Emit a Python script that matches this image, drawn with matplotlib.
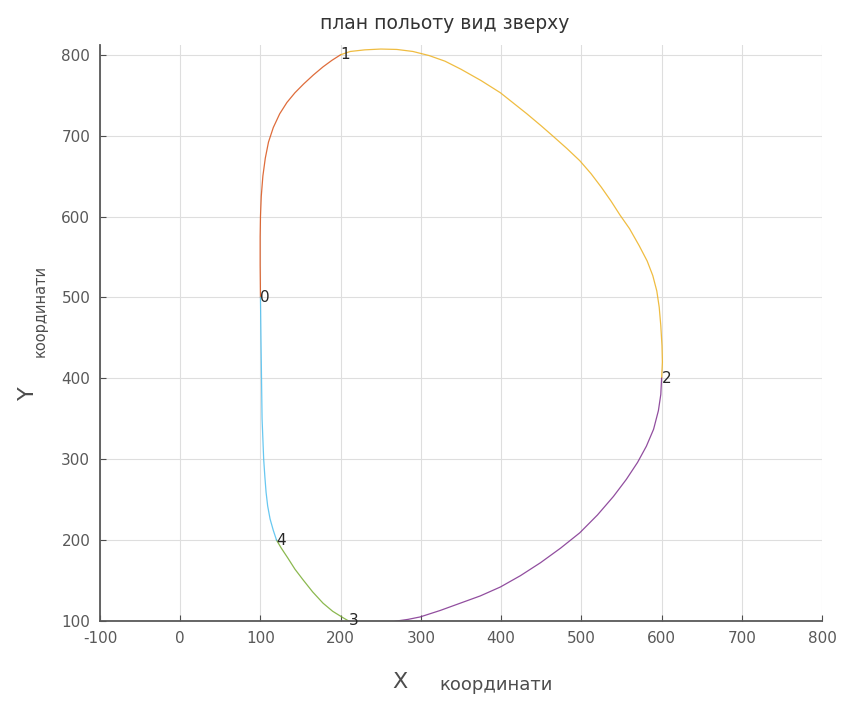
#!/usr/bin/env python3
# -*- coding: utf-8 -*-

import matplotlib
matplotlib.use("Agg")
import matplotlib.pyplot as pyplot

# waypoints of the flight plan (label, x, y)
wp_labels = ["0", "1", "2", "3", "4"]
wp_x = [100, 200, 600, 210, 120]
wp_y = [500, 800, 400, 100, 200]

# traced legs between waypoints
leg01_x = [100, 99.6, 99.6, 100, 101, 103, 106, 110, 116, 124, 133, 143, 154, 166, 178, 189, 200]
leg01_y = [500, 540, 575, 600, 625, 650, 672, 692, 710, 727, 741, 753, 764, 775, 785, 793, 800]

leg12_x = [200, 212, 230, 250, 270, 290, 310, 330, 350, 375, 399, 432, 450, 465, 482, 498, 512,
	525, 537, 548, 560, 572, 582, 589, 594, 597, 599, 600.5, 601, 600]
leg12_y = [800, 804, 806, 807, 806.5, 804, 799, 792, 782, 768, 753, 727, 712, 699, 684, 669, 653,
	636, 619, 602, 585, 564, 545, 527, 508, 488, 465, 440, 420, 400]

leg23_x = [600, 599, 596, 590, 581, 570, 556, 540, 520, 498, 474, 449, 424, 399, 374, 349, 324,
	299, 284, 270, 255, 240, 225, 210]
leg23_y = [400, 380, 360, 337, 316, 296, 275, 254, 231, 209, 190, 172, 156, 142, 131, 122, 113,
	105, 102, 100, 97, 96, 97, 100]

leg34_x = [210, 203, 190, 178, 165, 153, 143, 134, 126, 120]
leg34_y = [100, 104, 112, 122, 136, 151, 164, 178, 190, 200]

leg40_x = [120, 116, 112, 109, 107, 105.5, 104, 103, 102, 101.3, 100.6, 100]
leg40_y = [200, 212, 226, 242, 259, 278, 300, 325, 350, 400, 450, 500]

legs = [
	(leg01_x, leg01_y, (0.850, 0.325, 0.098)),
	(leg12_x, leg12_y, (0.929, 0.694, 0.125)),
	(leg23_x, leg23_y, (0.494, 0.184, 0.556)),
	(leg34_x, leg34_y, (0.466, 0.674, 0.188)),
	(leg40_x, leg40_y, (0.301, 0.745, 0.933)),
]

pyplot.rcParams["font.family"] = ["DejaVu Sans"]
pyplot.rcParams["axes.unicode_minus"] = False

fig = pyplot.figure(figsize=(8.44, 7.02), dpi=100)
ax = fig.add_axes([0.1185, 0.1154, 0.8555, 0.8205])

for xs, ys, color in legs:
	ax.plot(xs, ys, color=color, linewidth=0.9, alpha=0.85)

for label, x, y in zip(wp_labels, wp_x, wp_y):
	ax.text(x, y, label, fontsize=11, color="0.15", ha="left", va="center")

# Format axes
ax.set_xlim(-100, 800)
ax.set_ylim(100, 812)
ax.set_xticks(range(-100, 801, 100))
ax.set_yticks(range(100, 801, 100))
ax.grid(True, color="0.87", linewidth=0.8)
ax.set_axisbelow(True)
for side in ["top", "right"]:
	ax.spines[side].set_visible(False)
for side in ["left", "bottom"]:
	ax.spines[side].set_color("0.35")
	ax.spines[side].set_linewidth(1.3)
ax.tick_params(direction="in", length=4, color="0.3", labelcolor="0.35", labelsize=11, pad=7)

# Title and axis labels
fig.text(0.527, 0.967, "план польоту вид зверху", fontsize=13.5, color="0.2", ha="center", va="center")
fig.text(0.474, 0.029, "X", fontsize=16, color="0.3", ha="center", va="center")
fig.text(0.588, 0.024, "координати", fontsize=13, color="0.3", ha="center", va="center")
fig.text(0.033, 0.440, "Y", fontsize=16, color="0.3", ha="center", va="center", rotation=90)
fig.text(0.047, 0.557, "координати", fontsize=10.5, color="0.3", ha="center", va="center", rotation=90)

# Save chart
fig.savefig("out.png", dpi=100)
pyplot.close()
